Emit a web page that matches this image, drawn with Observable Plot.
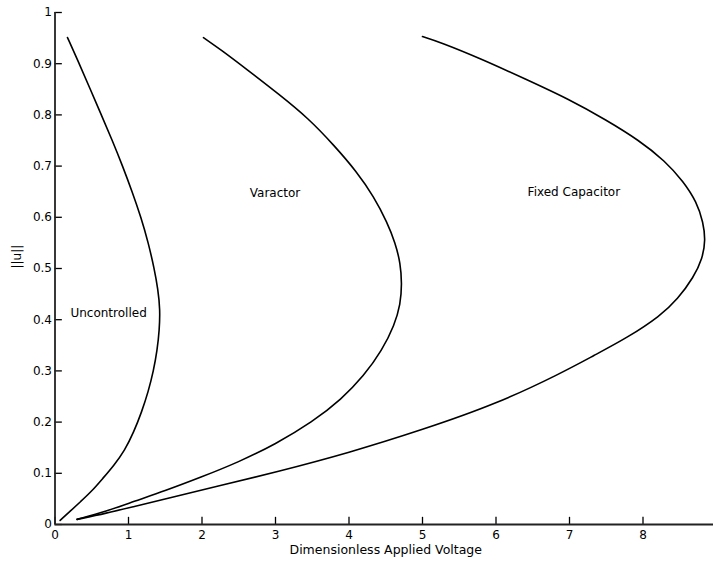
<!DOCTYPE html>
<html><head><meta charset="utf-8">
<script src="https://cdn.jsdelivr.net/npm/d3@7"></script>
<script src="https://cdn.jsdelivr.net/npm/@observablehq/plot@0.6"></script>
<style>
body{margin:0;background:#fff;overflow:hidden}
#chart{width:713px;height:566px;overflow:hidden}
#chart svg{max-width:none !important}
</style></head><body><div id="chart"></div>
<script>
const xTicks = [0,1,2,3,4,5,6,7,8,9];
const yTicks = [0,0.1,0.2,0.3,0.4,0.5,0.6,0.7,0.8,0.9,1];
const yTickLabels = ["0","0.1","0.2","0.3","0.4","0.5","0.6","0.7","0.8","0.9","1"];
const xLabel = "Dimensionless Applied Voltage";
const yLabel = "||u||";

const uncontrolledX = [0.07,0.2,0.35,0.5,0.65,0.8,0.95,1.07,1.18,1.27,1.34,1.39,1.42,1.43,1.40,1.35,1.27,1.17,1.05,0.92,0.78,0.63,0.48,0.33,0.17];
const uncontrolledY = [0.008,0.025,0.045,0.065,0.09,0.115,0.145,0.18,0.22,0.26,0.30,0.34,0.38,0.42,0.46,0.50,0.55,0.60,0.65,0.70,0.75,0.80,0.85,0.90,0.951];

const varactorX = [0.3,0.7,1.07,1.5,1.98,2.5,3.0,3.5,3.9,4.2,4.45,4.62,4.70,4.72,4.70,4.63,4.52,4.34,4.1,3.8,3.45,3.05,2.6,2.25,2.02];
const varactorY = [0.01,0.026,0.045,0.066,0.092,0.122,0.157,0.2,0.245,0.29,0.34,0.39,0.43,0.47,0.51,0.55,0.59,0.64,0.69,0.74,0.793,0.84,0.89,0.928,0.951];

const fixedX = [0.3,0.7,1.07,1.5,2.25,3.0,4.0,5.0,6.0,6.88,7.33,7.79,8.24,8.47,8.69,8.81,8.85,8.82,8.73,8.55,8.3,7.95,7.5,7.0,6.4,5.79,5.24,5.0];
const fixedY = [0.01,0.022,0.035,0.05,0.076,0.102,0.14,0.185,0.235,0.295,0.33,0.365,0.408,0.44,0.483,0.52,0.555,0.59,0.63,0.67,0.71,0.75,0.79,0.83,0.87,0.91,0.942,0.953];

const labelNames = ["Uncontrolled","Varactor","Fixed Capacitor"];
const labelX = [0.21,2.65,6.43];
const labelY = [0.412,0.648,0.65];

const rows = [];
[["Uncontrolled",uncontrolledX,uncontrolledY],["Varactor",varactorX,varactorY],["Fixed Capacitor",fixedX,fixedY]]
  .forEach(([s,xs,ys]) => xs.forEach((x,i) => rows.push({series:s, x, y: ys[i]})));
const labels = labelNames.map((t,i) => ({t, x: labelX[i], y: labelY[i]}));

const plot = Plot.plot({
  width: 716, height: 566,
  marginLeft: 54.5, marginRight: 0, marginTop: 12, marginBottom: 42,
  x: {domain: [0, 9]},
  y: {domain: [0, 1]},
  style: {fontFamily: "DejaVu Sans", fontSize: "12px", color: "#000", background: "#fff", overflow: "visible", maxWidth: "none"},
  marks: [
    Plot.axisX(xTicks, {tickSize: 0, tickPadding: 6, label: null, tickFormat: d => String(d), fontSize: 12}),
    Plot.axisY(yTicks, {tickSize: 0, tickPadding: 3, label: null, tickFormat: (d,i) => yTickLabels[i], fontSize: 12}),
    Plot.ruleX(xTicks, {x: d => d, y1: 0, y2: 0.014, stroke: "#000", strokeWidth: 1.3}),
    Plot.ruleY(yTicks, {y: d => d, x1: 0, x2: 0.1, stroke: "#000", strokeWidth: 1.3}),
    Plot.ruleX([0], {stroke: "#222", strokeWidth: 1.8}),
    Plot.ruleY([0], {stroke: "#222", strokeWidth: 1.8}),
    Plot.line(rows, {x: "x", y: "y", z: "series", curve: "basis", stroke: "#000", strokeWidth: 1.6}),
    Plot.text(labels, {x: "x", y: "y", text: "t", textAnchor: "start", fill: "#000", fontSize: 12}),
    Plot.text([xLabel], {text: d => d, frameAnchor: "bottom", dy: 29, fill: "#000", fontSize: 12.5}),
    Plot.text([yLabel], {text: d => d, frameAnchor: "left", rotate: -90, dx: -38, fill: "#000", fontSize: 12})
  ]
});
document.getElementById("chart").appendChild(plot);
</script>
</body></html>
